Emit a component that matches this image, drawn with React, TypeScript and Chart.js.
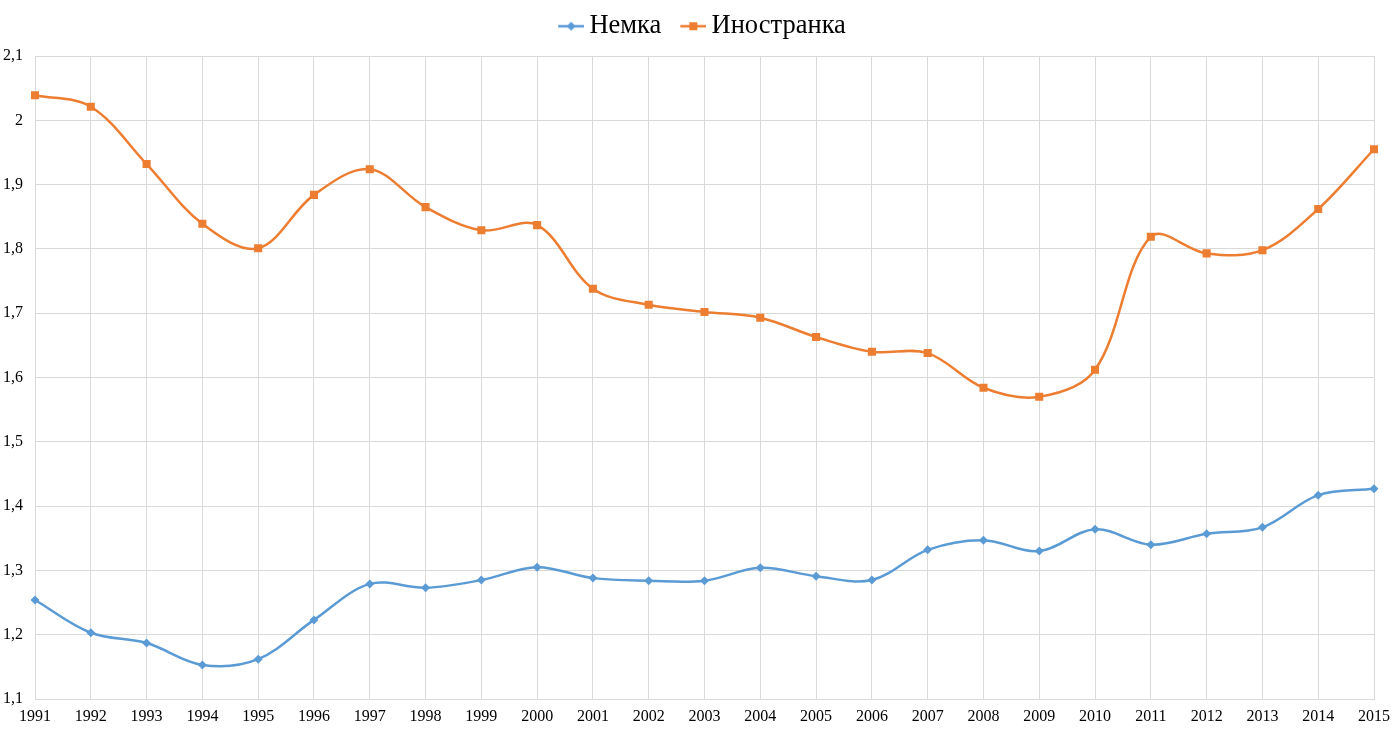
import React, { useEffect, useRef } from "react";
import { Chart, registerables } from "chart.js";

Chart.register(...registerables);

const years = [
  "1991", "1992", "1993", "1994", "1995", "1996", "1997", "1998", "1999", "2000",
  "2001", "2002", "2003", "2004", "2005", "2006", "2007", "2008", "2009", "2010",
  "2011", "2012", "2013", "2014", "2015",
];

const nemka = [
  1.254, 1.203, 1.187, 1.153, 1.162, 1.223, 1.279, 1.273, 1.285, 1.305,
  1.288, 1.284, 1.284, 1.304, 1.291, 1.285, 1.332, 1.347, 1.33, 1.364,
  1.34, 1.357, 1.367, 1.417, 1.427,
];

const inostranka = [
  2.039, 2.021, 1.932, 1.839, 1.801, 1.884, 1.924, 1.865, 1.829, 1.837,
  1.738, 1.713, 1.702, 1.693, 1.663, 1.64, 1.638, 1.584, 1.57, 1.612,
  1.819, 1.793, 1.798, 1.862, 1.955,
];

const BLUE = "#5B9BD5";
const ORANGE = "#ED7D31";
const GRID = "#d9d9d9";
const FONT = "'Liberation Serif', 'Times New Roman', serif";
const LEGEND_SIZE = 26.5;

// line + marker picture for the legend; left part kept empty so the icon sits close to the text
function legendIcon(color: string, shape: "diamond" | "square") {
  const c = document.createElement("canvas");
  c.width = 42;
  c.height = 12;
  const ctx = c.getContext("2d")!;
  ctx.strokeStyle = color;
  ctx.lineWidth = 2.5;
  ctx.beginPath();
  ctx.moveTo(16, 6);
  ctx.lineTo(42, 6);
  ctx.stroke();
  ctx.fillStyle = color;
  if (shape === "square") {
    ctx.fillRect(25, 2, 8, 8);
  } else {
    ctx.beginPath();
    ctx.moveTo(29, 1.5);
    ctx.lineTo(33.5, 6);
    ctx.lineTo(29, 10.5);
    ctx.lineTo(24.5, 6);
    ctx.closePath();
    ctx.fill();
  }
  return c;
}

const legendHeight = {
  id: "legendHeight",
  beforeInit(chart: any) {
    const fit = chart.legend.fit;
    chart.legend.fit = function () {
      fit.call(chart.legend);
      this.height = 54;
    };
  },
};

const App: React.FC = () => {
  const canvasRef = useRef<HTMLCanvasElement | null>(null);
  const chartRef = useRef<Chart | null>(null);

  useEffect(() => {
    document.body.style.margin = "0";
    const ctx = canvasRef.current?.getContext("2d");
    if (!ctx) return;
    if (chartRef.current) chartRef.current.destroy();

    chartRef.current = new Chart(ctx, {
      type: "line",
      data: {
        labels: years,
        datasets: [
          {
            label: "Немка",
            data: nemka,
            borderColor: BLUE,
            backgroundColor: BLUE,
            borderWidth: 2.5,
            tension: 0.35,
            pointStyle: "rectRot",
            pointRadius: 4.5,
            pointBorderWidth: 0,
          },
          {
            label: "Иностранка",
            data: inostranka,
            borderColor: ORANGE,
            backgroundColor: ORANGE,
            borderWidth: 2.5,
            tension: 0.35,
            pointStyle: "rect",
            pointRadius: 5.7,
            pointBorderWidth: 0,
          },
        ],
      },
      options: {
        responsive: true,
        maintainAspectRatio: false,
        animation: false,
        layout: { padding: { top: 2, right: 0, bottom: 0, left: 0 } },
        plugins: {
          tooltip: { enabled: false },
          legend: {
            position: "top",
            labels: {
              usePointStyle: true,
              pointStyleWidth: 26,
              boxHeight: 12,
              padding: 11,
              color: "#000",
              font: { family: FONT, size: LEGEND_SIZE },
              generateLabels: (chart) =>
                chart.data.datasets.map((ds, i) => ({
                  text: ds.label as string,
                  datasetIndex: i,
                  pointStyle: legendIcon(
                    i === 0 ? BLUE : ORANGE,
                    i === 0 ? "diamond" : "square"
                  ),
                  fillStyle: "transparent",
                  strokeStyle: "transparent",
                  lineWidth: 0,
                  fontColor: "#000",
                })),
            },
          },
        },
        scales: {
          x: {
            offset: false,
            grid: { color: GRID, drawTicks: false },
            border: { color: GRID },
            afterFit: (scale: any) => {
              scale.height = 32;
              scale.paddingRight = 22;
            },
            ticks: {
              color: "#000",
              padding: 8,
              maxRotation: 0,
              autoSkip: false,
              font: { family: FONT, size: 16 },
            },
          },
          y: {
            min: 1.1,
            max: 2.1,
            grid: { color: GRID, drawTicks: false },
            border: { color: GRID },
            afterFit: (scale) => {
              scale.width = 35;
            },
            ticks: {
              stepSize: 0.1,
              color: "#000",
              padding: 12,
              font: { family: FONT, size: 16 },
              callback: (v) =>
                (Math.round(Number(v) * 10) / 10).toString().replace(".", ","),
            },
          },
        },
      },
      plugins: [legendHeight],
    });

    return () => {
      if (chartRef.current) chartRef.current.destroy();
      chartRef.current = null;
    };
  }, []);

  return (
    <div style={{ width: 1396, height: 731, position: "relative" }}>
      <canvas ref={canvasRef}></canvas>
    </div>
  );
};

export default App;
